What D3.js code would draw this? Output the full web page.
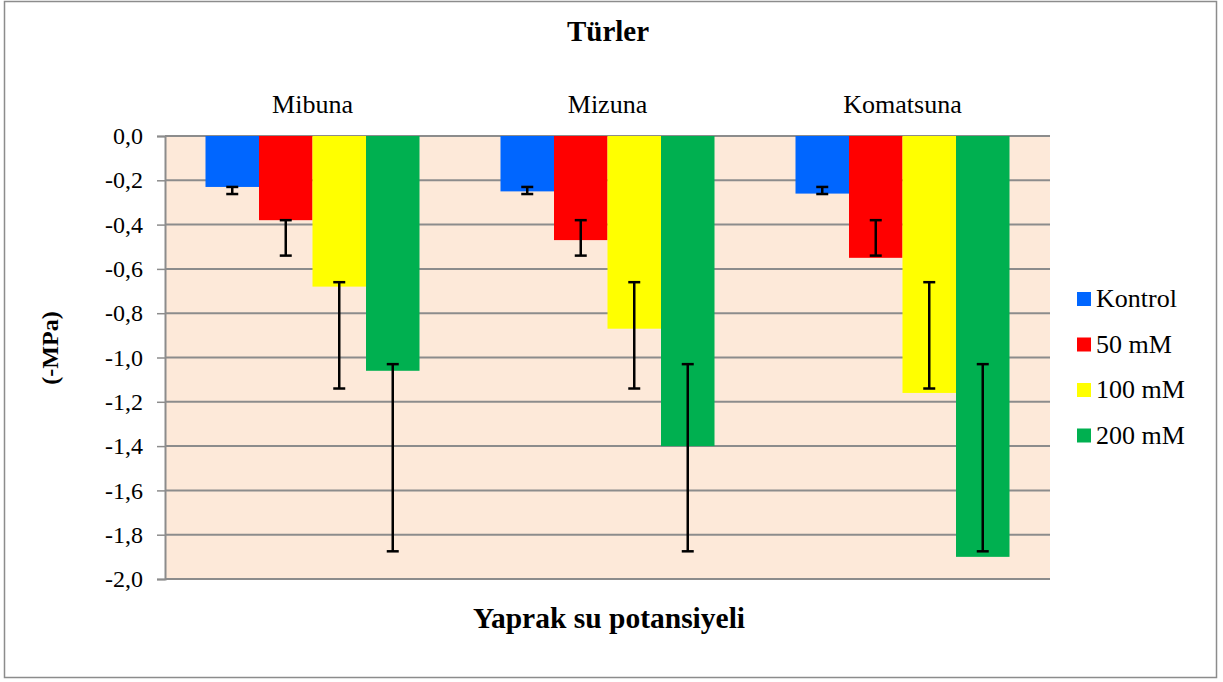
<!DOCTYPE html>
<html>
<head>
<meta charset="utf-8">
<script src="https://cdn.jsdelivr.net/npm/d3@7"></script>
<style>
  body { margin: 0; background: #fff; }
  svg text { font-family: "Liberation Serif", "Times New Roman", serif; fill: #000; }
</style>
</head>
<body>
<svg id="chart" width="1223" height="682"></svg>
<script>
// species (categories) and salt treatments (series)
const species = ["Mibuna", "Mizuna", "Komatsuna"];
const treatments = ["Kontrol", "50 mM", "100 mM", "200 mM"];
const colors = ["#0066FF", "#FF0000", "#FFFF00", "#00B050"];

// leaf water potential, one array per treatment (order follows species)
const kontrol = [-0.23, -0.25, -0.26];
const mM50 = [-0.38, -0.47, -0.55];
const mM100 = [-0.68, -0.87, -1.16];
const mM200 = [-1.06, -1.40, -1.90];

// error bar ends (upper, lower) per treatment, same for each species
const errTop = [-0.23, -0.38, -0.66, -1.03];
const errBottom = [-0.262, -0.54, -1.14, -1.875];

const yTicks = [0, -0.2, -0.4, -0.6, -0.8, -1.0, -1.2, -1.4, -1.6, -1.8, -2.0];

const seriesValues = [kontrol, mM50, mM100, mM200];

const svg = d3.select("#chart");
const plot = { left: 165, right: 1050, top: 136, bottom: 579 };

// outer frame
svg.append("rect")
    .attr("x", 4.5).attr("y", 1.5)
    .attr("width", 1212).attr("height", 676)
    .attr("fill", "#fff")
    .attr("stroke", "#8c8c8c")
    .attr("stroke-width", 1.5);

// scales
const x0 = d3.scaleBand()
    .domain(species)
    .range([plot.left, plot.right])
    .paddingInner(0)
    .paddingOuter(0);

const x1 = d3.scaleBand()
    .domain(treatments)
    .range([0, x0.bandwidth()])
    .paddingOuter(0.757)
    .paddingInner(0);

const y = d3.scaleLinear()
    .domain([0, -2])
    .range([plot.top, plot.bottom]);

// plot background
svg.append("rect")
    .attr("x", plot.left).attr("y", plot.top)
    .attr("width", plot.right - plot.left)
    .attr("height", plot.bottom - plot.top)
    .attr("fill", "#FDE9D9");

// gridlines
svg.append("g")
    .selectAll("line")
    .data(yTicks)
    .join("line")
    .attr("x1", plot.left).attr("x2", plot.right)
    .attr("y1", d => y(d)).attr("y2", d => y(d))
    .attr("stroke", "#8c8c8c")
    .attr("stroke-width", 2);

// left axis
const yAxis = d3.axisLeft(y)
    .tickValues(yTicks)
    .tickSize(8)
    .tickPadding(14)
    .tickFormat(d => d3.format(".1f")(d).replace("−", "-").replace(".", ","));

const gy = svg.append("g")
    .attr("transform", `translate(${plot.left},0)`)
    .call(yAxis);
gy.attr("font-family", null);
gy.select(".domain").attr("stroke", "#8c8c8c").attr("stroke-width", 2);
gy.selectAll(".tick line").attr("stroke", "#8c8c8c").attr("stroke-width", 1.5);
gy.selectAll(".tick text")
    .attr("font-size", 24)
    .attr("fill", "#000");

// bars
const groups = svg.append("g")
    .selectAll("g")
    .data(species)
    .join("g")
    .attr("transform", d => `translate(${x0(d)},0)`);

groups.selectAll("rect")
    .data((s, i) => treatments.map((t, j) => ({ t, j, v: seriesValues[j][i] })))
    .join("rect")
    .attr("x", d => x1(d.t))
    .attr("y", y(0))
    .attr("width", x1.bandwidth())
    .attr("height", d => y(d.v) - y(0))
    .attr("fill", d => colors[d.j]);

// error bars
const capW = 12;
const err = groups.selectAll("g.err")
    .data(() => treatments.map((t, j) => ({ t, j })))
    .join("g")
    .attr("class", "err")
    .attr("stroke", "#000")
    .attr("stroke-width", 2.5);

err.append("line")
    .attr("x1", d => x1(d.t) + x1.bandwidth() / 2)
    .attr("x2", d => x1(d.t) + x1.bandwidth() / 2)
    .attr("y1", d => y(errTop[d.j]))
    .attr("y2", d => y(errBottom[d.j]));
err.append("line")
    .attr("x1", d => x1(d.t) + x1.bandwidth() / 2 - capW / 2)
    .attr("x2", d => x1(d.t) + x1.bandwidth() / 2 + capW / 2)
    .attr("y1", d => y(errTop[d.j]))
    .attr("y2", d => y(errTop[d.j]));
err.append("line")
    .attr("x1", d => x1(d.t) + x1.bandwidth() / 2 - capW / 2)
    .attr("x2", d => x1(d.t) + x1.bandwidth() / 2 + capW / 2)
    .attr("y1", d => y(errBottom[d.j]))
    .attr("y2", d => y(errBottom[d.j]));

// species labels above plot
svg.append("g")
    .selectAll("text")
    .data(species)
    .join("text")
    .attr("x", d => x0(d) + x0.bandwidth() / 2)
    .attr("y", 113)
    .attr("text-anchor", "middle")
    .attr("font-size", 26)
    .text(d => d);

// title
svg.append("text")
    .attr("x", 608).attr("y", 41)
    .attr("text-anchor", "middle")
    .attr("font-size", 29)
    .attr("font-weight", "bold")
    .text("Türler");

// x axis title
svg.append("text")
    .attr("x", 609).attr("y", 628)
    .attr("text-anchor", "middle")
    .attr("font-size", 29.5)
    .attr("font-weight", "bold")
    .text("Yaprak su potansiyeli");

// y axis title
svg.append("text")
    .attr("transform", "translate(58,348) rotate(-90)")
    .attr("text-anchor", "middle")
    .attr("font-size", 24)
    .attr("font-weight", "bold")
    .text("(-MPa)");

// legend
const legend = svg.append("g")
    .selectAll("g")
    .data(treatments)
    .join("g")
    .attr("transform", (d, i) => `translate(1077,${299 + i * 45.5})`);

legend.append("rect")
    .attr("x", 0).attr("y", -7)
    .attr("width", 14).attr("height", 14)
    .attr("fill", (d, i) => colors[i]);

legend.append("text")
    .attr("x", 19).attr("y", 8)
    .attr("font-size", 26)
    .text(d => d);
</script>
</body>
</html>
